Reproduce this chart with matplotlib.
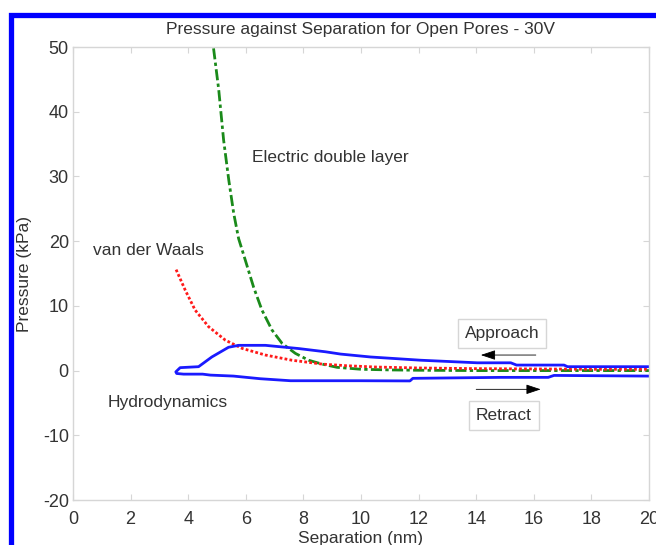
import matplotlib
matplotlib.use("Agg")
import matplotlib.pyplot as plt
from matplotlib.patches import Rectangle

plt.rcParams['font.family'] = ['Liberation Sans', 'DejaVu Sans']
plt.rcParams['axes.unicode_minus'] = False

# electric double layer pressure (kPa) vs separation (nm)
edl_x = [4.88, 5.06, 5.23, 5.41, 5.58, 5.75, 5.98, 6.27, 6.56, 6.91, 7.26, 7.72, 8.18, 8.65,
         9.17, 10, 11, 12, 14, 16, 18, 20]
edl_p = [49.8, 43.4, 35.6, 29.4, 24.3, 20.4, 17.1, 12.9, 9.35, 6.26, 4.2, 2.66, 1.6, 1.0,
         0.5, 0.2, 0.1, 0.05, 0.0, 0.0, 0.0, 0.0]

# van der Waals
vdw_x = [3.58, 3.9, 4.24, 4.71, 5.29, 5.87, 6.68, 7.6, 8.65, 9.5, 10.5, 12, 14, 16, 18, 20]
vdw_p = [15.6, 12.4, 9.35, 6.77, 4.7, 3.43, 2.4, 1.6, 1.0, 0.75, 0.55, 0.4, 0.3, 0.25, 0.2, 0.2]

# hydrodynamic loop: approach (from 20 nm inwards) then retract
hyd_x = [20, 19.95, 17.17, 17.05, 15.4, 15.2, 14.5, 14.04, 12.07, 10.33, 9.29, 8.77, 7.84, 6.68,
         5.75, 5.4, 4.82, 4.36, 3.72, 3.57,
         3.6, 3.84, 4.5, 4.77, 5.57, 6.5, 7.55, 10, 11.7, 11.8, 14.85, 16.5, 16.7, 19.95, 20]
hyd_p = [0.6, 0.6, 0.6, 0.85, 0.85, 1.2, 1.2, 1.2, 1.6, 2.1, 2.55, 2.9, 3.4, 3.9,
         3.9, 3.6, 2.1, 0.6, 0.45, -0.2,
         -0.45, -0.55, -0.55, -0.7, -0.85, -1.26, -1.57, -1.57, -1.6, -1.2, -1.05, -1.05, -0.75, -0.85, -0.85]

xticks = list(range(0, 21, 2))
yticks = list(range(-20, 51, 10))

text_col = '#333333'
frame_col = '#d6d6d6'

fig = plt.figure(figsize=(6.56, 5.45), dpi=100)
ax = fig.add_axes([73 / 656, 1 - 500 / 545, 576 / 656, 453 / 545])

ax.plot(edl_x, edl_p, color='#1a8a1a', lw=2, dashes=(4, 1.2, 1.2, 1.2))
ax.plot(vdw_x, vdw_p, color='#ff1a1a', lw=2, dashes=(1, 0.8))
ax.plot(hyd_x, hyd_p, color='#1a1aff', ls='-', lw=2)

ax.set_xlim(0, 20)
ax.set_ylim(-20, 50)
ax.set_xticks(xticks)
ax.set_yticks(yticks)
ax.tick_params(direction='in', length=4, color=frame_col, labelsize=13,
               labelcolor=text_col, top=True, right=True, pad=3)
ax.tick_params(axis='x', pad=8)
for s in ax.spines.values():
    s.set_color(frame_col)
    s.set_linewidth(1)

ax.set_title('Pressure against Separation for Open Pores - 30V', fontsize=12.5,
             color=text_col, pad=9.5)
ax.set_xlabel('Separation (nm)', fontsize=12.5, color=text_col, labelpad=2)
ax.set_ylabel('Pressure (kPa)', fontsize=12.5, color=text_col, labelpad=8)

ax.text(6.2, 33, 'Electric double layer', fontsize=12.5, color=text_col, va='center')
ax.text(0.7, 18.6, 'van der Waals', fontsize=12.5, color=text_col, va='center')
ax.text(1.2, -4.9, 'Hydrodynamics', fontsize=12.5, color=text_col, va='center')

box = dict(boxstyle='square,pad=0.4', fc='white', ec=frame_col, lw=1)
ax.text(14.9, 5.7, 'Approach', fontsize=12.5, color=text_col, ha='center', va='center', bbox=box)
ax.text(14.96, -6.9, 'Retract', fontsize=12.5, color=text_col, ha='center', va='center', bbox=box)

arrow = dict(arrowstyle='-|>,head_length=0.9,head_width=0.3', color='black', lw=0.6,
             shrinkA=0, shrinkB=0)
ax.annotate('', xy=(14.16, 2.4), xytext=(16.07, 2.4), arrowprops=arrow)
ax.annotate('', xy=(16.24, -2.9), xytext=(14.0, -2.9), arrowprops=arrow)

# blue frame around the whole figure
fig.patches.append(Rectangle((10.5 / 656, -0.1), 1.2, 1 - 14.5 / 545 + 0.1,
                             transform=fig.transFigure, fill=False,
                             ec='#0000ff', lw=3.8, zorder=10))

fig.savefig('out.png', dpi=100)
